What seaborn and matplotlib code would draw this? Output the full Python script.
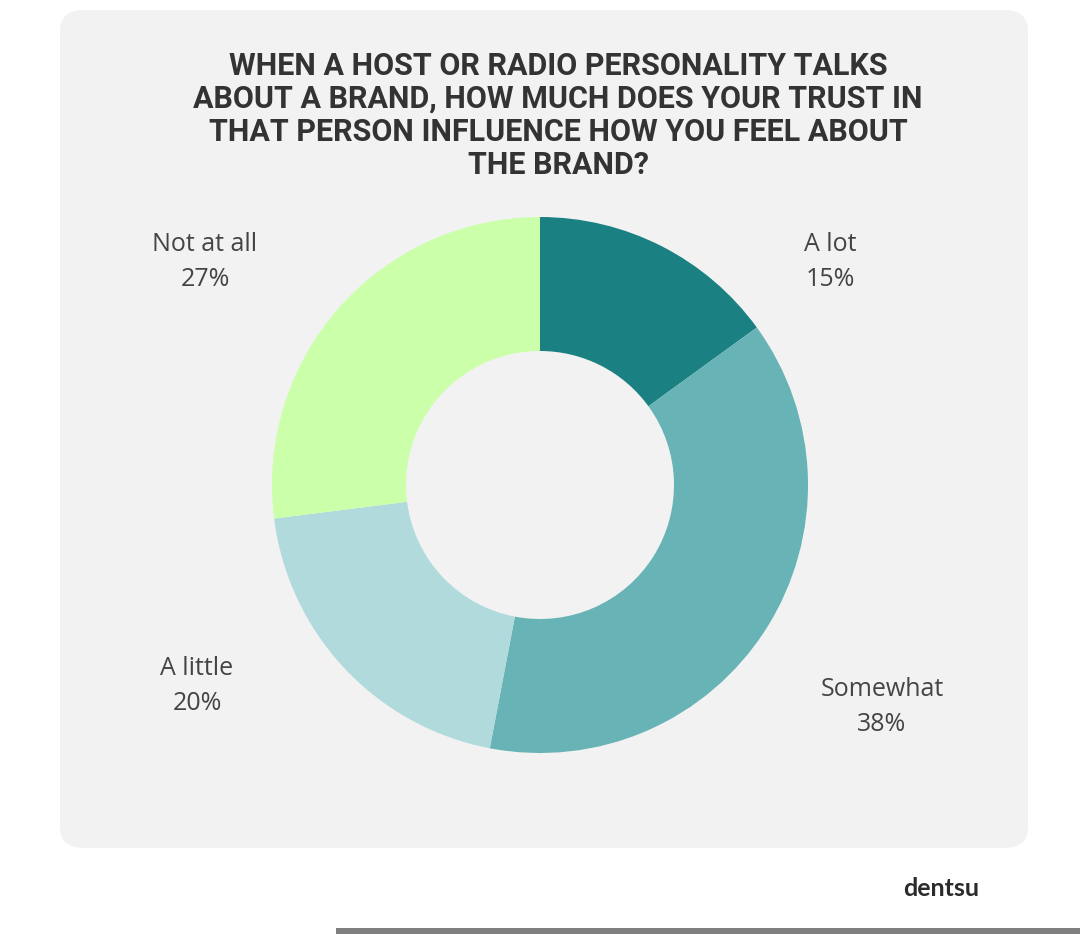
import numpy as np
import matplotlib
matplotlib.use("Agg")
import matplotlib.pyplot as plt
from matplotlib.patches import FancyBboxPatch, Rectangle
import seaborn as sns

# data
categories = ["A lot", "Somewhat", "A little", "Not at all"]
shares = [15, 38, 20, 27]
colours = ["#1a8082", "#68b3b5", "#b0dadb", "#ccffaa"]
title = ("WHEN A HOST OR RADIO PERSONALITY TALKS\n"
         "ABOUT A BRAND, HOW MUCH DOES YOUR TRUST IN\n"
         "THAT PERSON INFLUENCE HOW YOU FEEL ABOUT\n"
         "THE BRAND?")

sns.set_theme(style="white")
plt.rcParams["font.family"] = ["Open Sans", "DejaVu Sans"]

W, H = 1080, 934
fig = plt.figure(figsize=(W / 100, H / 100), dpi=100)
fig.patch.set_facecolor("white")

def px(x, y):
    return x / W, 1 - y / H

# grey panel
x0, y0 = px(60, 848)
x1, y1 = px(1028, 10)
panel = FancyBboxPatch((x0, y0), x1 - x0, y1 - y0,
                       boxstyle="round,pad=0,rounding_size=0.022",
                       transform=fig.transFigure, facecolor="#f2f2f2",
                       edgecolor="none", zorder=-2)
fig.patches.append(panel)

# bottom grey bar
bx, by = px(336, 934)
fig.patches.append(Rectangle((bx, by), 1 - bx, 6 / H, transform=fig.transFigure,
                             facecolor="#7f7f7f", edgecolor="none", zorder=-2))

fig.text(558 / W, 1 - 51 / H, title, ha="center", va="top", fontsize=22,
         fontweight="bold", color="#333333", linespacing=1.12,
         family=["Roboto", "DejaVu Sans"])

# donut
cx, cy, r = 540, 485, 268
ax = fig.add_axes([(cx - r) / W, 1 - (cy + r) / H, 2 * r / W, 2 * r / H])
ax.set_zorder(2)
ax.pie(shares, colors=colours, startangle=90, counterclock=False,
       wedgeprops=dict(width=0.5, edgecolor="none"), radius=1)
ax.set_aspect("equal")
ax.set_xlim(-1, 1)
ax.set_ylim(-1, 1)
ax.axis("off")

label_pos = {"A lot": (830, 262), "Somewhat": (882, 707),
             "A little": (197, 686), "Not at all": (205, 262)}
for cat, val in zip(categories, shares):
    lx, ly = label_pos[cat]
    fig.text(lx / W, 1 - ly / H, f"{cat}\n{val}%", ha="center", va="center",
             fontsize=18, color="#444444", linespacing=1.5)

fig.text(941 / W, 1 - 888 / H, "dentsu", ha="center", va="center",
         fontsize=18, fontweight="bold", color="#2b2b2b",
         family=["Lato", "DejaVu Sans"])

fig.savefig("out.png", dpi=100)
